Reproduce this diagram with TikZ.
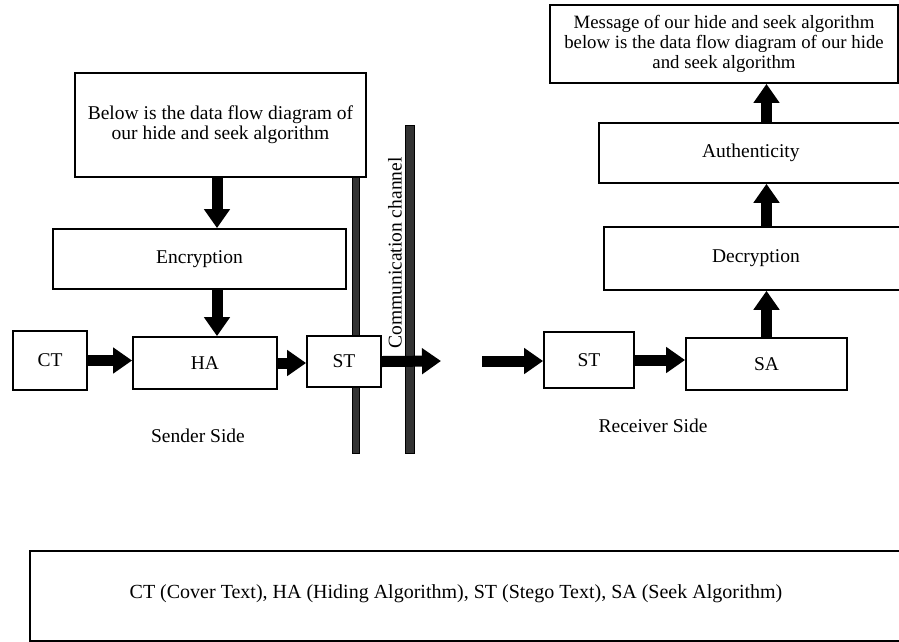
\documentclass[tikz,border=0pt]{standalone}
\usepackage{fontspec}
\setmainfont{Liberation Serif}
\usetikzlibrary{arrows.meta}
\begin{document}
\begin{tikzpicture}[x=1pt,y=-1pt,
  box/.style={draw, line width=1.8pt, fill=white, inner sep=0pt, align=center,
              font=\fontsize{19.5}{20}\selectfont},
  lbl/.style={inner sep=0pt, font=\fontsize{19.5}{20}\selectfont},
  fat/.style={line width=11pt, -{Triangle[length=19pt,width=25pt]}},
  bar/.style={draw=black, line width=1pt, fill=black!80}]
\useasboundingbox (0,0) rectangle (899,641);
\clip (0,0) rectangle (899,641);

% communication channel bars
\path[bar] (352,177) rectangle (359,453);
\path[bar] (405,125) rectangle (414,453);
\node[lbl, rotate=90] (chan) at (395,253) {Communication channel};

% sender side
\node[box, minimum width=291pt, minimum height=104pt] (msgin) at (220.5,125)
  {Below is the data flow diagram of\\our hide and seek algorithm};
\node[box, minimum width=293pt, minimum height=60pt] (enc) at (199.5,259) {Encryption};
\node[box, minimum width=74pt, minimum height=59pt] (ct) at (50,360.5) {CT};
\node[box, minimum width=144pt, minimum height=52pt] (ha) at (205,363) {HA};
\node[box, minimum width=74pt, minimum height=51pt] (st1) at (344,361.5) {ST};
\node[lbl] (sender) at (198,436) {Sender Side};

% receiver side
\node[box, minimum width=90pt, minimum height=56pt] (st2) at (589,360) {ST};
\node[box, minimum width=161pt, minimum height=52pt] (sa) at (766.5,364) {SA};
\node[box, minimum width=304pt, minimum height=63pt, anchor=north west] (dec) at (603,226) {Decryption};
\node[box, minimum width=304pt, minimum height=60pt, anchor=north west] (auth) at (598,122) {Authenticity};
\node[box, minimum width=348pt, minimum height=78pt, font=\fontsize{18.8}{20}\selectfont] (msgout) at (724,44)
  {Message of our hide and seek algorithm\\below is the data flow diagram of our hide\\and seek algorithm};
\node[lbl] (receiver) at (653,426) {Receiver Side};

% legend
\node[box, minimum width=891pt, minimum height=90pt, anchor=north west] (legend) at (29,550) {};
\node[lbl, font=\fontsize{20}{21}\selectfont] (legendtxt) at (456,594)
  {CT (Cover Text), HA (Hiding Algorithm), ST (Stego Text), SA (Seek Algorithm)};

% arrows
\coordinate (sx) at (217,0);
\coordinate (rx) at (441,361);
\coordinate (lx) at (482,361);
\draw[fat] (sx |- msgin.south) -- (sx |- enc.north);
\draw[fat] (sx |- enc.south) -- (sx |- ha.north);
\draw[fat] (ct.east) -- (ha.west |- ct.east);
\draw[fat] (ha.east) -- (st1.west |- ha.east);
\draw[fat] (st1.east) -- (rx);
\draw[fat] (lx) -- (st2.west |- lx);
\draw[fat] (st2.east) -- (sa.west |- st2.east);
\draw[fat] (sa.north) -- (sa.north |- dec.south);
\draw[fat] (sa.north |- dec.north) -- (sa.north |- auth.south);
\draw[fat] (sa.north |- auth.north) -- (sa.north |- msgout.south);
\end{tikzpicture}
\end{document}
